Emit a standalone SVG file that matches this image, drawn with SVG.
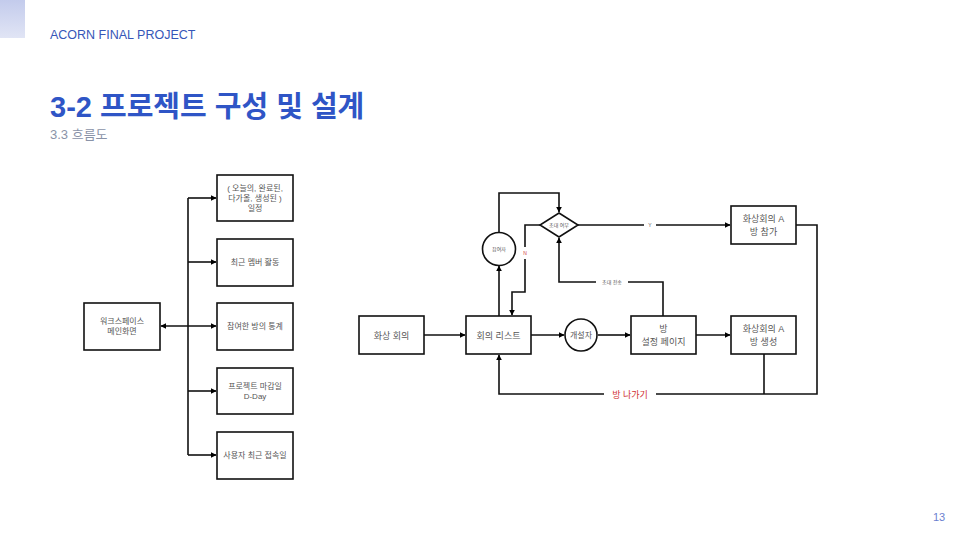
<svg xmlns="http://www.w3.org/2000/svg" width="960" height="540" viewBox="0 0 960 540">
<defs>
<linearGradient id="corner" x1="0" y1="0" x2="0" y2="1">
<stop offset="0" stop-color="#c3cbec"/>
<stop offset="1" stop-color="#e1e5f5"/>
</linearGradient>
<marker id="arr" viewBox="0 0 10 10" refX="9" refY="5" markerWidth="6" markerHeight="6" orient="auto-start-reverse" markerUnits="userSpaceOnUse">
<path d="M0,0 L10,5 L0,10 z" fill="#000"/>
</marker>
</defs>
<style>
.box{fill:#fff;stroke:#111;stroke-width:1.6}
.ln{fill:none;stroke:#111;stroke-width:1.6}
.t{font-family:"Liberation Sans","Noto Sans CJK KR",sans-serif;fill:#555;text-anchor:middle}
.s8{font-size:8px}
.s9{font-size:9px}
.s5{font-size:5px}
.lbl{fill:#fff}
</style>
<rect x="0" y="0" width="25" height="38" fill="url(#corner)"/>
<text x="50" y="39" font-family="Liberation Sans, sans-serif" font-size="12.5" fill="#3656b8">ACORN FINAL PROJECT</text>
<text x="50" y="117" font-family="'Liberation Sans', 'Noto Sans CJK KR', sans-serif" font-size="29" font-weight="bold" fill="#2f55c6">3-2 프로젝트 구성 및 설계</text>
<text x="50" y="139" font-family="'Liberation Sans', 'Noto Sans CJK KR', sans-serif" font-size="13" fill="#8a93a8">3.3 흐름도</text>
<text x="939" y="521" font-family="Liberation Sans, sans-serif" font-size="11" fill="#6b7fd0" text-anchor="middle">13</text>

<g id="connectors">
<path class="ln" d="M188,198 V455"/>
<path class="ln" d="M188,198 H216" marker-end="url(#arr)"/>
<path class="ln" d="M188,262 H216" marker-end="url(#arr)"/>
<path class="ln" d="M161,326 H216" marker-start="url(#arr)" marker-end="url(#arr)"/>
<path class="ln" d="M188,391 H216" marker-end="url(#arr)"/>
<path class="ln" d="M188,455 H216" marker-end="url(#arr)"/>

<path class="ln" d="M424,335 H465" marker-end="url(#arr)"/>
<path class="ln" d="M531,335 H564" marker-end="url(#arr)"/>
<path class="ln" d="M598,335 H630" marker-end="url(#arr)"/>
<path class="ln" d="M696,335 H730" marker-end="url(#arr)"/>
<path class="ln" d="M499,316 V266" marker-end="url(#arr)"/>
<path class="ln" d="M499,232 V193 H559 V212" marker-end="url(#arr)"/>
<path class="ln" d="M540,225 H525 V292 H512 V315" marker-end="url(#arr)"/>
<path class="ln" d="M578,225 H730" marker-end="url(#arr)"/>
<path class="ln" d="M663,316 V282 H559 V238" marker-end="url(#arr)"/>
<path class="ln" d="M796,225 H817 V394 H499 V355" marker-end="url(#arr)"/>
<path class="ln" d="M764,354 V394"/>

<rect class="lbl" x="644" y="219" width="12" height="12"/>
<text class="t s5" x="650" y="227">Y</text>
<rect class="lbl" x="520" y="247" width="10" height="12"/>
<text class="t s5" x="525" y="255" style="fill:#d04040">N</text>
<rect class="lbl" x="596" y="276" width="32" height="12"/>
<text class="t s5" x="612" y="284">초대 전송</text>
<rect class="lbl" x="604" y="386" width="52" height="16"/>
<text class="t s9" x="630" y="398" style="fill:#d03030">방 나가기</text>
</g>

<g id="main"><rect class="box" x="84" y="303" width="76" height="47"/><text class="t s8" x="122" y="324">워크스페이스</text><text class="t s8" x="122" y="334">메인화면</text></g>
<g id="schedule"><rect class="box" x="217" y="175" width="76" height="46"/><text class="t s8" x="255" y="191">( 오늘의, 완료된,</text><text class="t s8" x="255" y="201">다가올, 생성된 )</text><text class="t s8" x="255" y="211">일정</text></g>
<g id="members"><rect class="box" x="217" y="239" width="76" height="47"/><text class="t s8" x="255" y="265">최근 멤버 활동</text></g>
<g id="stats"><rect class="box" x="217" y="303" width="76" height="47"/><text class="t s8" x="255" y="329">참여한 방의 통계</text></g>
<g id="dday"><rect class="box" x="217" y="368" width="76" height="46"/><text class="t s8" x="255" y="389">프로젝트 마감일</text><text class="t s8" x="255" y="399">D-Day</text></g>
<g id="lastlogin"><rect class="box" x="217" y="432" width="76" height="47"/><text class="t s8" x="255" y="458">사용자 최근 접속일</text></g>

<g id="conf"><rect class="box" x="359" y="316" width="65" height="38"/><text class="t s9" x="391.5" y="338.5">화상 회의</text></g>
<g id="list"><rect class="box" x="466" y="316" width="65" height="38"/><text class="t s9" x="498.5" y="338.5">회의 리스트</text></g>
<g id="host"><circle class="box" cx="581" cy="335" r="16"/><text class="t s8" x="581" y="338">개설자</text></g>
<g id="setup"><rect class="box" x="631" y="316" width="65" height="38"/><text class="t s9" x="663.5" y="332">방</text><text class="t s9" x="663.5" y="345">설정 페이지</text></g>
<g id="create"><rect class="box" x="731" y="316" width="65" height="38"/><text class="t s9" x="763.5" y="332">화상회의 A</text><text class="t s9" x="763.5" y="345">방 생성</text></g>
<g id="join"><rect class="box" x="731" y="206" width="65" height="38"/><text class="t s9" x="763.5" y="222">화상회의 A</text><text class="t s9" x="763.5" y="235">방 참가</text></g>
<g id="participant"><circle class="box" cx="499" cy="249" r="16.5"/><text class="t s5" x="499" y="251">참여자</text></g>
<g id="invite"><path class="box" d="M559,213 L578,225 L559,237 L540,225 Z"/><text class="t s5" x="559" y="227">초대 여부</text></g>
</svg>
